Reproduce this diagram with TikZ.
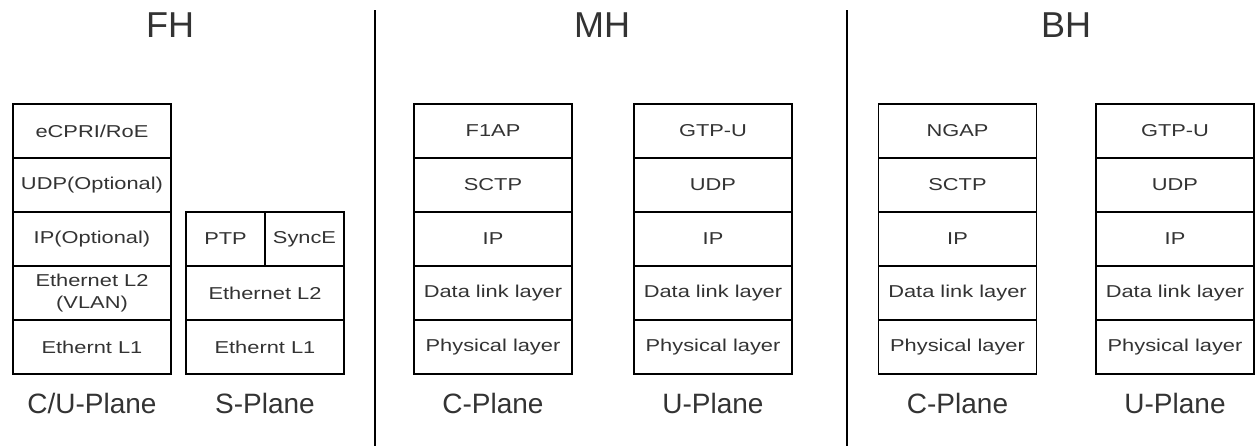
\documentclass[tikz,border=0pt]{standalone}
\usepackage{fontspec}
\setmainfont{Liberation Sans}
\newfontfamily\cellfont{Liberation Sans}[FakeStretch=1.27]
\usepackage{xcolor}
\definecolor{ink}{RGB}{51,51,51}
\usetikzlibrary{positioning}

\begin{document}
\begin{tikzpicture}[x=0.75pt, y=-0.75pt,
  layer/.style={draw=black, line width=1.4pt, minimum width=118.5pt, minimum height=40.5pt,
    inner sep=0pt, outer sep=0pt, text=ink, align=center,
    font=\cellfont\fontsize{12.9}{17}\selectfont},
  halflayer/.style={layer, minimum width=59.25pt},
  plane/.style={text=ink, font=\fontsize{21}{25}\selectfont},
  haul/.style={text=ink, font=\fontsize{27}{32}\selectfont}]
  \useasboundingbox (0,0) rectangle (1256,446);
  % titles and separators
  \node[haul] (fh) at (170,25) {FH};
  \node[haul] (mh) at (602,25) {MH};
  \node[haul] (bh) at (1066,25) {BH};
  \coordinate (sepa) at (375,10);
  \coordinate (sepb) at (847,10);
  \draw[line width=0.8pt] (sepa) -- (sepa |- 0,446);
  \draw[line width=0.8pt] (sepb) -- (sepb |- 0,446);
  % FH, C/U-plane
  \node[layer] (cu1) at (92,131) {eCPRI/RoE};
  \node[layer, below=0pt of cu1] (cu2) {UDP(Optional)};
  \node[layer, below=0pt of cu2] (cu3) {IP(Optional)};
  \node[layer, below=0pt of cu3] (cu4) {Ethernet L2\\(VLAN)};
  \node[layer, below=0pt of cu4] (cu5) {Ethernt L1};
  \node[plane] (cul) at (92,403) {C/U-Plane};
  % FH, S-plane
  \node[halflayer] (ptp) at (225.5,239) {PTP};
  \node[halflayer, right=0pt of ptp] (synce) {SyncE};
  \node[layer, anchor=north] (s2) at (ptp.south east) {Ethernet L2};
  \node[layer, below=0pt of s2] (s3) {Ethernt L1};
  \node[plane] (sl) at (265,403) {S-Plane};
  % MH, C-plane
  \node[layer] (mc1) at (493,131) {F1AP};
  \node[layer, below=0pt of mc1] (mc2) {SCTP};
  \node[layer, below=0pt of mc2] (mc3) {IP};
  \node[layer, below=0pt of mc3] (mc4) {Data link layer};
  \node[layer, below=0pt of mc4] (mc5) {Physical layer};
  \node[plane] (mcl) at (493,403) {C-Plane};
  % MH, U-plane
  \node[layer] (mu1) at (713,131) {GTP-U};
  \node[layer, below=0pt of mu1] (mu2) {UDP};
  \node[layer, below=0pt of mu2] (mu3) {IP};
  \node[layer, below=0pt of mu3] (mu4) {Data link layer};
  \node[layer, below=0pt of mu4] (mu5) {Physical layer};
  \node[plane] (mul) at (713,403) {U-Plane};
  % BH, C-plane
  \node[layer] (bc1) at (957.5,131) {NGAP};
  \node[layer, below=0pt of bc1] (bc2) {SCTP};
  \node[layer, below=0pt of bc2] (bc3) {IP};
  \node[layer, below=0pt of bc3] (bc4) {Data link layer};
  \node[layer, below=0pt of bc4] (bc5) {Physical layer};
  \node[plane] (bcl) at (957.5,403) {C-Plane};
  % BH, U-plane
  \node[layer] (bu1) at (1175,131) {GTP-U};
  \node[layer, below=0pt of bu1] (bu2) {UDP};
  \node[layer, below=0pt of bu2] (bu3) {IP};
  \node[layer, below=0pt of bu3] (bu4) {Data link layer};
  \node[layer, below=0pt of bu4] (bu5) {Physical layer};
  \node[plane] (bul) at (1175,403) {U-Plane};
\end{tikzpicture}
\end{document}
